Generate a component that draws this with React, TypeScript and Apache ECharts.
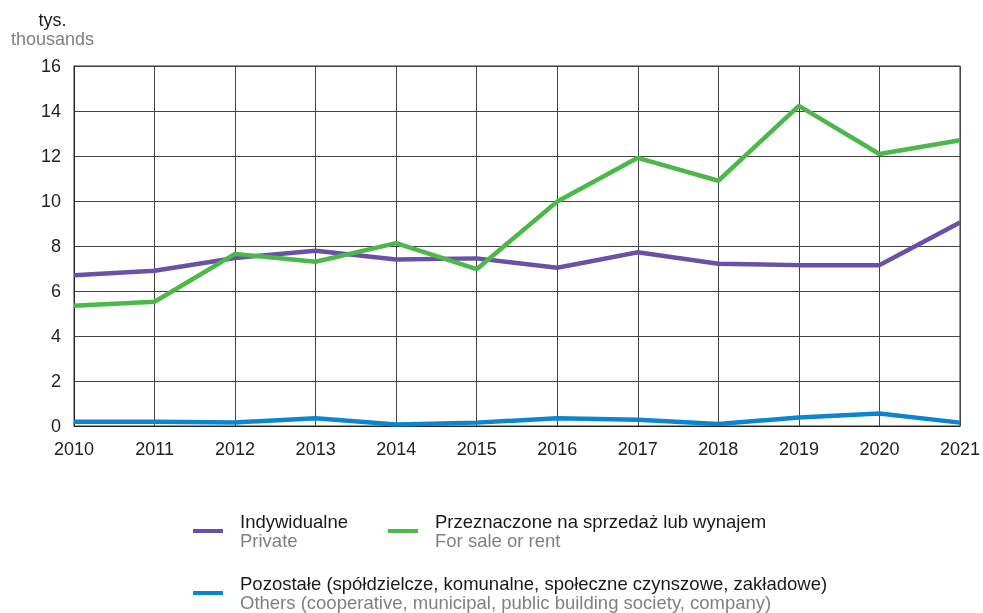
import React, { useEffect, useRef } from "react";
import * as echarts from "echarts";

const years = ["2010", "2011", "2012", "2013", "2014", "2015", "2016", "2017", "2018", "2019", "2020", "2021"];
const privateVals = [6.7, 6.9, 7.47, 7.79, 7.4, 7.45, 7.03, 7.72, 7.21, 7.15, 7.15, 9.04];
const saleRentVals = [5.34, 5.52, 7.65, 7.3, 8.13, 6.97, 9.98, 11.92, 10.9, 14.23, 12.09, 12.7];
const othersVals = [0.19, 0.19, 0.16, 0.34, 0.07, 0.15, 0.34, 0.28, 0.09, 0.38, 0.56, 0.15];

const seriesNames = [
  "Indywidualne|Private",
  "Przeznaczone na sprzedaż lub wynajem|For sale or rent",
  "Pozostałe (spółdzielcze, komunalne, społeczne czynszowe, zakładowe)|Others (cooperative, municipal, public building society, company)",
];
const colors = ["#6a50a6", "#4cb849", "#0a86cf"];
const yTicks = { min: 0, max: 16, interval: 2 };

const FONT = "'Liberation Sans', Arial, Helvetica, sans-serif";

export default function App() {
  const ref = useRef<HTMLDivElement>(null);
  useEffect(() => {
    if (!ref.current) return;
    const chart = echarts.init(ref.current, null, { renderer: "svg" });
    const legendCommon = {
      orient: "horizontal" as const,
      padding: 0,
      selectedMode: false,
      icon: "rect",
      itemWidth: 30,
      itemHeight: 4,
      formatter: (name: string) => {
        const [a, b] = name.split("|");
        return `{a|${a}}\n{b|${b}}`;
      },
      textStyle: {
        rich: {
          a: { fontFamily: FONT, fontSize: 18.5, lineHeight: 19, color: "#1a1a1a", padding: [0, 0, 0, 12] },
          b: { fontFamily: FONT, fontSize: 18.5, lineHeight: 19, color: "#808080", padding: [0, 0, 0, 12] },
        },
      },
    };
    chart.setOption({
      animation: false,
      textStyle: { fontFamily: FONT },
      grid: {
        left: 74,
        right: 22,
        top: 66,
        bottom: 187,
        show: true,
        borderColor: "#333",
        borderWidth: 1,
      },
      graphic: [
        {
          type: "text",
          x: 52.5,
          y: 20,
          style: { text: "tys.", font: `18px ${FONT}`, fill: "#1a1a1a", align: "center", verticalAlign: "middle" },
        },
        {
          type: "text",
          x: 52.5,
          y: 38.5,
          style: { text: "thousands", font: `18px ${FONT}`, fill: "#808080", align: "center", verticalAlign: "middle" },
        },
      ],
      legend: [
        { ...legendCommon, left: 193, top: 512, data: [seriesNames[0]] },
        { ...legendCommon, left: 388, top: 512, data: [seriesNames[1]] },
        { ...legendCommon, left: 193, top: 574, data: [seriesNames[2]] },
      ],
      xAxis: {
        type: "category",
        data: years,
        boundaryGap: false,
        axisLine: { lineStyle: { color: "#222", width: 1 } },
        axisTick: { show: false },
        axisLabel: { fontSize: 18, color: "#222", margin: 14, fontFamily: FONT },
        splitLine: { show: true, lineStyle: { color: "#444", width: 1 } },
      },
      yAxis: {
        type: "value",
        min: yTicks.min,
        max: yTicks.max,
        interval: yTicks.interval,
        axisLine: { show: true, lineStyle: { color: "#222", width: 1 } },
        axisTick: { show: false },
        axisLabel: { fontSize: 18, color: "#222", margin: 13, fontFamily: FONT },
        splitLine: { show: true, lineStyle: { color: "#444", width: 1 } },
      },
      series: [
        { name: seriesNames[0], data: privateVals },
        { name: seriesNames[1], data: saleRentVals },
        { name: seriesNames[2], data: othersVals },
      ].map((s, i) => ({
        ...s,
        type: "line",
        showSymbol: false,
        symbol: "none",
        color: colors[i],
        lineStyle: { color: colors[i], width: 4.5 },
        z: 3,
      })),
    });
    return () => chart.dispose();
  }, []);
  return <div ref={ref} style={{ position: "fixed", left: 0, top: 0, width: 983, height: 613 }} />;
}
